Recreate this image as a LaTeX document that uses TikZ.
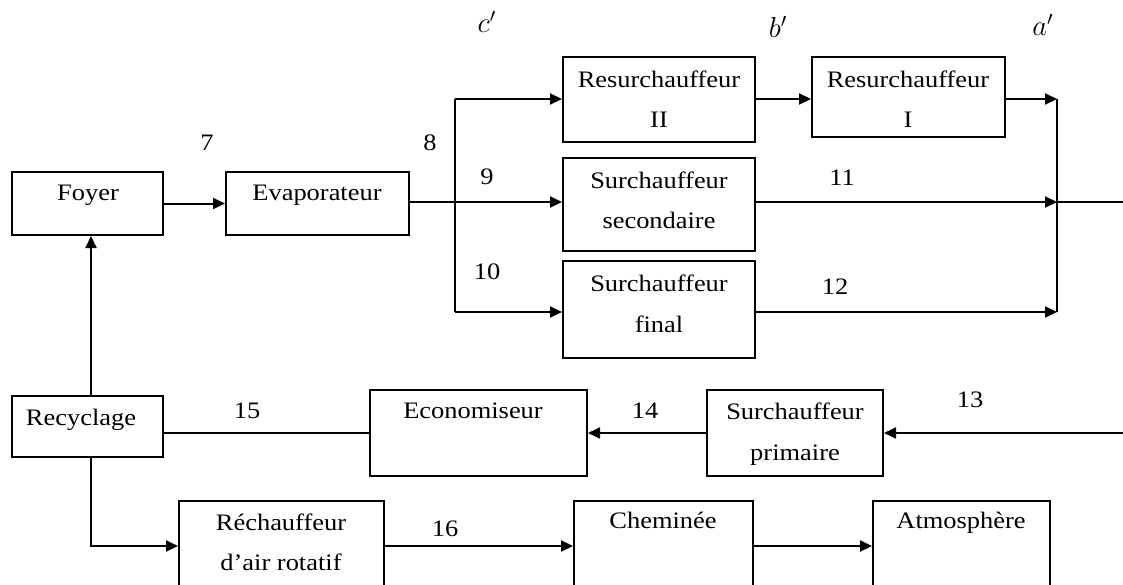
\documentclass[tikz,border=0pt]{standalone}
\usepackage{fontspec}
\setmainfont{Liberation Serif}[FakeStretch=1.12]
\usetikzlibrary{arrows.meta}
\begin{document}
\begin{tikzpicture}[x=0.5pt,y=-0.5pt,
  box/.style={draw,line width=1pt,inner sep=0pt},
  txt/.style={anchor=base,inner sep=0pt,font=\fontsize{11.8}{13}\selectfont},
  lbl/.style={inner sep=0pt,font=\fontsize{11.8}{13}\selectfont},
  mlbl/.style={inner sep=0pt,font=\fontsize{14}{16}\selectfont},
  ln/.style={line width=1pt},
  arr/.style={line width=1pt,-{Triangle[length=6pt,width=5.5pt]}}]
\useasboundingbox (0,0) rectangle (1123,584);
\clip (0,0) rectangle (1123,584);
\newcommand\mybox[5]{\node[box,minimum width={(#4-#2)*0.5pt},minimum height={(#5-#3)*0.5pt}] (#1) at ({(#2+#4)/2},{(#3+#5)/2}) {};}
% boxes
\mybox{foyer}{12}{172}{163}{235}
\mybox{evap}{226}{172}{409}{235}
\mybox{res2}{563}{57}{755}{142}
\mybox{res1}{812}{57}{1005}{137}
\mybox{sec}{563}{158}{755}{251}
\mybox{fin}{563}{261}{755}{358}
\mybox{recy}{12}{396}{163}{457}
\mybox{eco}{370}{390}{587}{476}
\mybox{prim}{707}{390}{883}{476}
\mybox{rech}{179}{501}{384}{640}
\mybox{chem}{574}{501}{753}{640}
\mybox{atm}{873}{501}{1050}{640}
% texts
\node[txt] (tfoyer) at (88,200) {Foyer};
\node[txt] (tevap) at (317,200) {Evaporateur};
\node[txt] (tres2a) at (659,87) {Resurchauffeur};
\node[txt] (tres2b) at (659,127) {II};
\node[txt] (tres1a) at (908,87) {Resurchauffeur};
\node[txt] (tres1b) at (908,127) {I};
\node[txt] (tseca) at (659,188) {Surchauffeur};
\node[txt] (tsecb) at (659,228) {secondaire};
\node[txt] (tfina) at (659,291) {Surchauffeur};
\node[txt] (tfinb) at (659,332) {final};
\node[txt] (trecy) at (81,425) {Recyclage};
\node[txt] (teco) at (473,418) {Economiseur};
\node[txt] (tprima) at (795,419) {Surchauffeur};
\node[txt] (tprimb) at (795,460) {primaire};
\node[txt] (trecha) at (281,530) {Réchauffeur};
\node[txt] (trechb) at (281,570) {d’air rotatif};
\node[txt] (tchem) at (663,528) {Cheminée};
\node[txt] (tatm) at (961,528) {Atmosphère};
% labels
\node[lbl] (l7) at (207,143) {7};
\node[lbl] (l8) at (430,143) {8};
\node[lbl] (l9) at (487,177) {9};
\node[lbl] (l10) at (487,272) {10};
\node[lbl] (l11) at (842,178) {11};
\node[lbl] (l12) at (835,287) {12};
\node[lbl] (l13) at (970,400) {13};
\node[lbl] (l14) at (645,411) {14};
\node[lbl] (l15) at (247,411) {15};
\node[lbl] (l16) at (445,529) {16};
\node[mlbl] (lc) at (487,22) {$c'$};
\node[mlbl] (lb) at (778,27) {$b'$};
\node[mlbl] (la) at (1043,25) {$a'$};
% junction coordinates
\coordinate (jlt) at (455,99);
\coordinate (jlb) at (455,312);
\coordinate (jrt) at (1057,99);
\coordinate (jrm) at (1057,202);
\coordinate (jrb) at (1057,312);
\coordinate (outr) at (1123,202);
\coordinate (in13) at (1123,433);
\coordinate (jrec) at (91,546);
% connectors
\draw[arr] (foyer.east) -- (evap.west);
\draw[arr] (evap.east |- 0,202) -- (sec.west |- 0,202);
\draw[ln] (jlt) -- (jlb);
\draw[arr] (jlt) -- (res2.west |- jlt);
\draw[arr] (jlb) -- (fin.west |- jlb);
\draw[arr] (res2.east |- jlt) -- (res1.west |- jlt);
\draw[arr] (res1.east |- jrt) -- (jrt);
\draw[arr] (sec.east |- jrm) -- (jrm);
\draw[ln] (jrm) -- (outr);
\draw[arr] (fin.east |- jrb) -- (jrb);
\draw[ln] (jrt) -- (jrb);
\draw[arr] (in13) -- (prim.east |- in13);
\draw[arr] (prim.west |- in13) -- (eco.east |- in13);
\draw[ln] (eco.west |- in13) -- (recy.east |- in13);
\draw[arr] (recy.north -| jrec) -- (foyer.south -| jrec);
\draw[arr] (recy.south -| jrec) -- (jrec) -- (rech.west |- jrec);
\draw[arr] (rech.east |- jrec) -- (chem.west |- jrec);
\draw[arr] (chem.east |- jrec) -- (atm.west |- jrec);
\end{tikzpicture}
\end{document}
